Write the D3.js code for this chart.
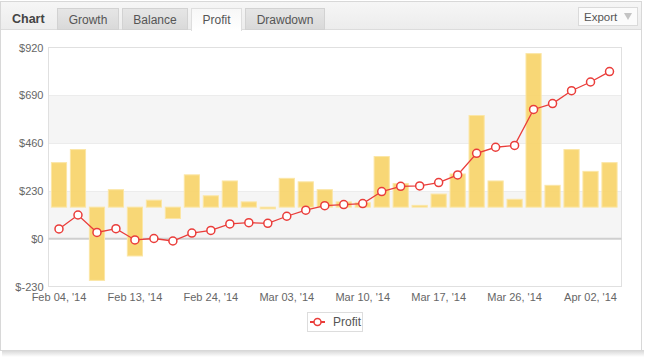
<!DOCTYPE html>
<html>
<head>
<meta charset="utf-8">
<script src="https://cdn.jsdelivr.net/npm/d3@7"></script>
<style>
  html, body { margin: 0; padding: 0; background: #fff; }
  svg { display: block; font-family: "Liberation Sans", Arial, sans-serif; }
</style>
</head>
<body>
<svg id="chart" width="648" height="357"></svg>
<script>
// ---- data ----
const tabs = ["Growth", "Balance", "Profit", "Drawdown"];
const activeTab = "Profit";
const xTickLabels = ["Feb 04, '14", "Feb 13, '14", "Feb 24, '14", "Mar 03, '14", "Mar 10, '14", "Mar 17, '14", "Mar 26, '14", "Apr 02, '14"];
const labelEvery = 4; // a date label on every 4th point
const yTicks = [-230, 0, 230, 460, 690, 920];
// cumulative profit (line)
const profit = [47, 114, 30, 48, -6, 1, -11, 27, 40, 71, 77, 74, 108, 137, 159, 164, 169, 227, 252, 254, 270, 307, 411, 440, 449, 622, 650, 712, 754, 804];
// daily profit (bars, secondary axis)
const daily = [51, 66, -84, 20, -56, 8, -13, 37, 13, 30, 6, -2, 33, 29, 20, 6, 5, 58, 27, 2, 15, 38, 105, 30, 9, 176, 25, 66, 41, 51];
const seriesName = "Profit";

// ---- layout ----
const svg = d3.select("#chart");
const plot = { left: 48.5, right: 621.5, top: 47.5, bottom: 286.5 };

// panel shadow + frame
const defs = svg.append("defs");
const sh = defs.append("linearGradient").attr("id", "shadow").attr("x1", 0).attr("x2", 0).attr("y1", 0).attr("y2", 1);
sh.append("stop").attr("offset", "0%").attr("stop-color", "#d4d4d4");
sh.append("stop").attr("offset", "100%").attr("stop-color", "#ffffff");
svg.append("rect").attr("x", 2).attr("y", 350).attr("width", 642).attr("height", 7).attr("fill", "url(#shadow)");
svg.append("rect").attr("x", 0.5).attr("y", 1.5).attr("width", 641).attr("height", 349)
  .attr("fill", "#fff").attr("stroke", "#d8d8d8");

// header
const hg = defs.append("linearGradient").attr("id", "hdr").attr("x1", 0).attr("x2", 0).attr("y1", 0).attr("y2", 1);
hg.append("stop").attr("offset", "0%").attr("stop-color", "#f6f6f6");
hg.append("stop").attr("offset", "100%").attr("stop-color", "#ececec");
svg.append("rect").attr("x", 1).attr("y", 2).attr("width", 640).attr("height", 28).attr("fill", "url(#hdr)");
svg.append("line").attr("x1", 1).attr("x2", 641).attr("y1", 29.5).attr("y2", 29.5).attr("stroke", "#dcdcdc");

svg.append("text").attr("x", 12).attr("y", 23).attr("fill", "#444")
  .attr("font-size", 12.5).attr("font-weight", "bold").text("Chart");

const tg = defs.append("linearGradient").attr("id", "tab").attr("x1", 0).attr("x2", 0).attr("y1", 0).attr("y2", 1);
tg.append("stop").attr("offset", "0%").attr("stop-color", "#e6e6e6");
tg.append("stop").attr("offset", "100%").attr("stop-color", "#d9d9d9");
const ta = defs.append("linearGradient").attr("id", "tabA").attr("x1", 0).attr("x2", 0).attr("y1", 0).attr("y2", 1);
ta.append("stop").attr("offset", "0%").attr("stop-color", "#f7f7f7");
ta.append("stop").attr("offset", "100%").attr("stop-color", "#ffffff");

let tx = 57;
tabs.forEach(t => {
  const g = svg.append("g");
  const txt = g.append("text").attr("y", 23.5).attr("font-size", 12).attr("fill", "#555").text(t);
  const tw = txt.node().getComputedTextLength();
  const w = Math.round(tw + 22);
  const active = t === activeTab;
  g.insert("rect", "text").attr("x", tx + 0.5).attr("y", 8.5).attr("width", w).attr("height", active ? 22 : 21)
    .attr("fill", active ? "url(#tabA)" : "url(#tab)").attr("stroke", active ? "#dedede" : "#d2d2d2");
  if (active) g.insert("rect", "text").attr("x", tx + 1).attr("y", 29).attr("width", w - 1).attr("height", 2).attr("fill", "#fff");
  txt.attr("x", tx + w / 2 + 0.5).attr("text-anchor", "middle");
  tx += w + 4;
});

// export button
svg.append("rect").attr("x", 578.5).attr("y", 7.5).attr("width", 59).attr("height", 18)
  .attr("fill", "#fbfbfb").attr("stroke", "#dadada");
svg.append("text").attr("x", 584).attr("y", 21).attr("font-size", 11.5).attr("fill", "#555").text("Export");
svg.append("path").attr("d", "M624,13 L632,13 L628,20 Z").attr("fill", "#c4c4c4");

// ---- scales ----
const y = d3.scaleLinear().domain([-230, 920]).range([plot.bottom, plot.top]);
const yBar = d3.scaleLinear().domain([-91, 183]).range([plot.bottom, plot.top]);
const x = d3.scaleBand().domain(d3.range(profit.length)).range([49.5, 619]).paddingInner(0.2).paddingOuter(0.1);

// plot bands
const bands = [[0, 230], [460, 690]];
svg.append("g").selectAll("rect").data(bands).join("rect")
  .attr("x", plot.left).attr("width", plot.right - plot.left)
  .attr("y", d => y(d[1])).attr("height", d => y(d[0]) - y(d[1]))
  .attr("fill", "#f5f5f5");

// grid lines
svg.append("g").selectAll("line").data(yTicks.filter(v => v !== 0 && v !== -230 && v !== 920)).join("line")
  .attr("x1", plot.left).attr("x2", plot.right)
  .attr("y1", d => Math.round(y(d)) + 0.5).attr("y2", d => Math.round(y(d)) + 0.5)
  .attr("stroke", "#ececec");

// plot border
svg.append("rect").attr("x", plot.left).attr("y", plot.top)
  .attr("width", plot.right - plot.left).attr("height", plot.bottom - plot.top)
  .attr("fill", "none").attr("stroke", "#e0e0e0");

// zero line
svg.append("line").attr("x1", plot.left).attr("x2", plot.right)
  .attr("y1", y(0)).attr("y2", y(0)).attr("stroke", "#cfcfcf").attr("stroke-width", 2);

// bars
svg.append("g").selectAll("rect").data(daily).join("rect")
  .attr("x", (d, i) => x(i)).attr("width", x.bandwidth())
  .attr("y", d => yBar(Math.max(0, d)))
  .attr("height", d => Math.max(1, Math.abs(yBar(d) - yBar(0))))
  .attr("fill", "#f8d56f").attr("fill-opacity", 0.95)
  .attr("stroke", "#fbe6a6").attr("stroke-width", 1);

// line
const cx = i => x(i) + x.bandwidth() / 2;
svg.append("path").datum(profit)
  .attr("d", d3.line().x((d, i) => cx(i)).y(d => y(d)))
  .attr("fill", "none").attr("stroke", "#ea3d3a").attr("stroke-width", 1.3);
svg.append("g").selectAll("circle").data(profit).join("circle")
  .attr("cx", (d, i) => cx(i)).attr("cy", d => y(d)).attr("r", 4)
  .attr("fill", "#fff").attr("stroke", "#ea3d3a").attr("stroke-width", 1.5);

// y axis
const yAxis = svg.append("g").attr("transform", `translate(${plot.left},0)`)
  .call(d3.axisLeft(y).tickValues(yTicks).tickSize(0).tickPadding(5).tickFormat(v => "$" + v));
yAxis.select(".domain").remove();
yAxis.selectAll("text").attr("font-size", 11).attr("fill", "#666").attr("font-family", "Liberation Sans, Arial, sans-serif");

// x axis (label on every 4th point)
const xAxis = svg.append("g").attr("transform", `translate(0,${plot.bottom})`)
  .call(d3.axisBottom(x)
    .tickValues(xTickLabels.map((l, k) => k * labelEvery))
    .tickFormat(i => xTickLabels[i / labelEvery])
    .tickSize(0).tickPadding(7));
xAxis.select(".domain").remove();
xAxis.selectAll("text").attr("font-size", 11).attr("fill", "#666").attr("font-family", "Liberation Sans, Arial, sans-serif");

// legend
const lg = svg.append("g");
lg.append("rect").attr("x", 307.5).attr("y", 312.5).attr("width", 55).attr("height", 19)
  .attr("fill", "#fff").attr("stroke", "#dddddd");
lg.append("line").attr("x1", 310).attr("x2", 325).attr("y1", 322).attr("y2", 322)
  .attr("stroke", "#ea3d3a").attr("stroke-width", 2);
lg.append("circle").attr("cx", 317.5).attr("cy", 322).attr("r", 3.5)
  .attr("fill", "#fff").attr("stroke", "#ea3d3a").attr("stroke-width", 1.5);
lg.append("text").attr("x", 333).attr("y", 326).attr("font-size", 12).attr("fill", "#555").text(seriesName);
</script>
</body>
</html>
